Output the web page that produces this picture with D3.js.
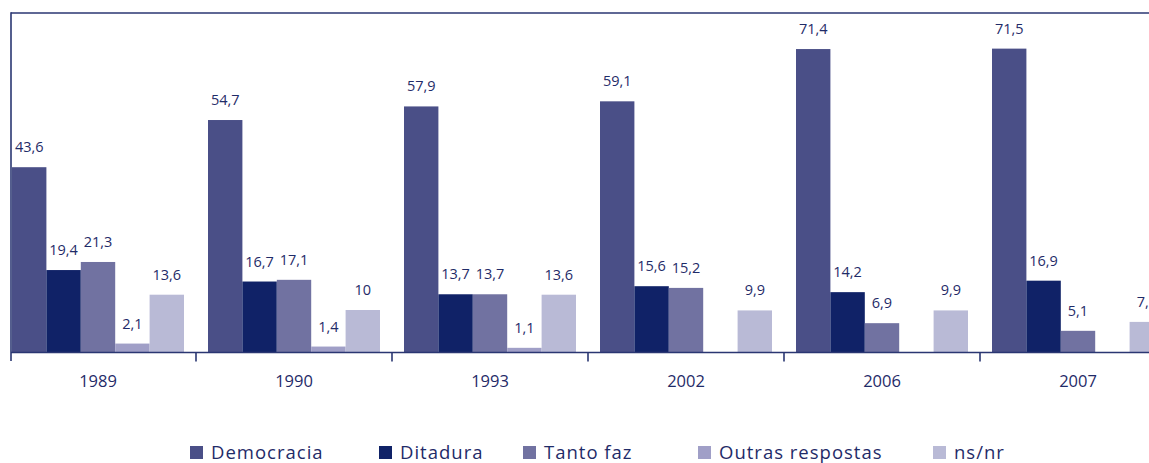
<!DOCTYPE html>
<html>
<head>
<meta charset="utf-8">
<script src="https://cdn.jsdelivr.net/npm/d3@7"></script>
<style>
  html, body { margin: 0; padding: 0; background: #fff; }
  svg { display: block; }
  text { font-family: "Open Sans", "Noto Sans", sans-serif; fill: #1f2b68; }
</style>
</head>
<body>
<svg id="chart" width="1149" height="463"></svg>
<script>
const years = ["1989", "1990", "1993", "2002", "2006", "2007"];
const seriesNames = ["Democracia", "Ditadura", "Tanto faz", "Outras respostas", "ns/nr"];
const democracia = [43.6, 54.7, 57.9, 59.1, 71.4, 71.5];
const ditadura   = [19.4, 16.7, 13.7, 15.6, 14.2, 16.9];
const tantoFaz   = [21.3, 17.1, 13.7, 15.2, 6.9, 5.1];
const outras     = [2.1, 1.4, 1.1, null, null, null];
const nsnr       = [13.6, 10, 13.6, 9.9, 9.9, 7.2];
const colors = ["#4a4f87", "#102267", "#7172a1", "#a09fc7", "#b9bad6"];

const seriesValues = [democracia, ditadura, tantoFaz, outras, nsnr];

const svg = d3.select("#chart");
const lineColor = "#2a3672";

const x0 = d3.scaleBand().domain(years).range([0, 1176]).padding(0);
const x1 = d3.scaleBand().domain(seriesNames).range([12, x0.bandwidth() - 12]).padding(0);
const y = d3.scaleLinear().domain([0, 80]).range([352.5, 12.5]);

const fmt = v => String(v).replace(".", ",");

// bars
const groups = svg.append("g").selectAll("g")
  .data(years).join("g")
  .attr("transform", d => `translate(${x0(d)},0)`);

years.forEach((yr, i) => {
  const g = groups.filter(d => d === yr);
  const data = seriesNames.map((s, j) => ({ s, j, v: seriesValues[j][i] })).filter(d => d.v != null);
  g.selectAll("rect").data(data).join("rect")
    .attr("x", d => x1(d.s))
    .attr("width", x1.bandwidth())
    .attr("y", d => y(d.v))
    .attr("height", d => y(0) - y(d.v))
    .attr("fill", d => colors[d.j]);
  g.selectAll("text.val").data(data).join("text")
    .attr("class", "val")
    .attr("x", d => x1(d.s) + x1.bandwidth() / 2)
    .attr("y", d => y(d.v) - 15)
    .attr("text-anchor", "middle")
    .style("font-size", "14.5px")
    .text(d => fmt(d.v));
});

// frame: top line, left line, baseline
svg.append("line").attr("x1", 11).attr("x2", 1149).attr("y1", 13).attr("y2", 13)
  .attr("stroke", lineColor).attr("stroke-width", 1.6);
svg.append("line").attr("x1", 11).attr("x2", 11).attr("y1", 12.2).attr("y2", 361)
  .attr("stroke", lineColor).attr("stroke-width", 1.6);
svg.append("line").attr("x1", 11).attr("x2", 1149).attr("y1", y(0)).attr("y2", y(0))
  .attr("stroke", lineColor).attr("stroke-width", 1.6);

// x axis ticks between groups and labels
const xAxis = d3.axisBottom(x0).tickSize(0).tickPadding(0);
const axG = svg.append("g").attr("transform", `translate(0,${y(0)})`).call(xAxis);
axG.select(".domain").remove();
axG.selectAll(".tick text")
  .attr("y", 34.5).attr("dy", 0)
  .style("font-size", "16.5px")
  .style("font-family", "'Open Sans', 'Noto Sans', sans-serif")
  .attr("fill", "#1f2b68");
svg.append("g").selectAll("line").data(years.slice(1)).join("line")
  .attr("x1", d => x0(d)).attr("x2", d => x0(d))
  .attr("y1", y(0)).attr("y2", y(0) + 9)
  .attr("stroke", lineColor).attr("stroke-width", 1.6);

// legend
const legendX = [190, 379, 523, 698, 933];
const leg = svg.append("g").selectAll("g").data(seriesNames).join("g")
  .attr("transform", (d, i) => `translate(${legendX[i]},0)`);
leg.append("rect").attr("x", 0).attr("y", 446).attr("width", 13).attr("height", 13)
  .attr("fill", (d, i) => colors[i]);
leg.append("text").attr("x", 21).attr("y", 458.5)
  .style("font-size", "18.5px").style("letter-spacing", "1px")
  .text(d => d);
</script>
</body>
</html>
